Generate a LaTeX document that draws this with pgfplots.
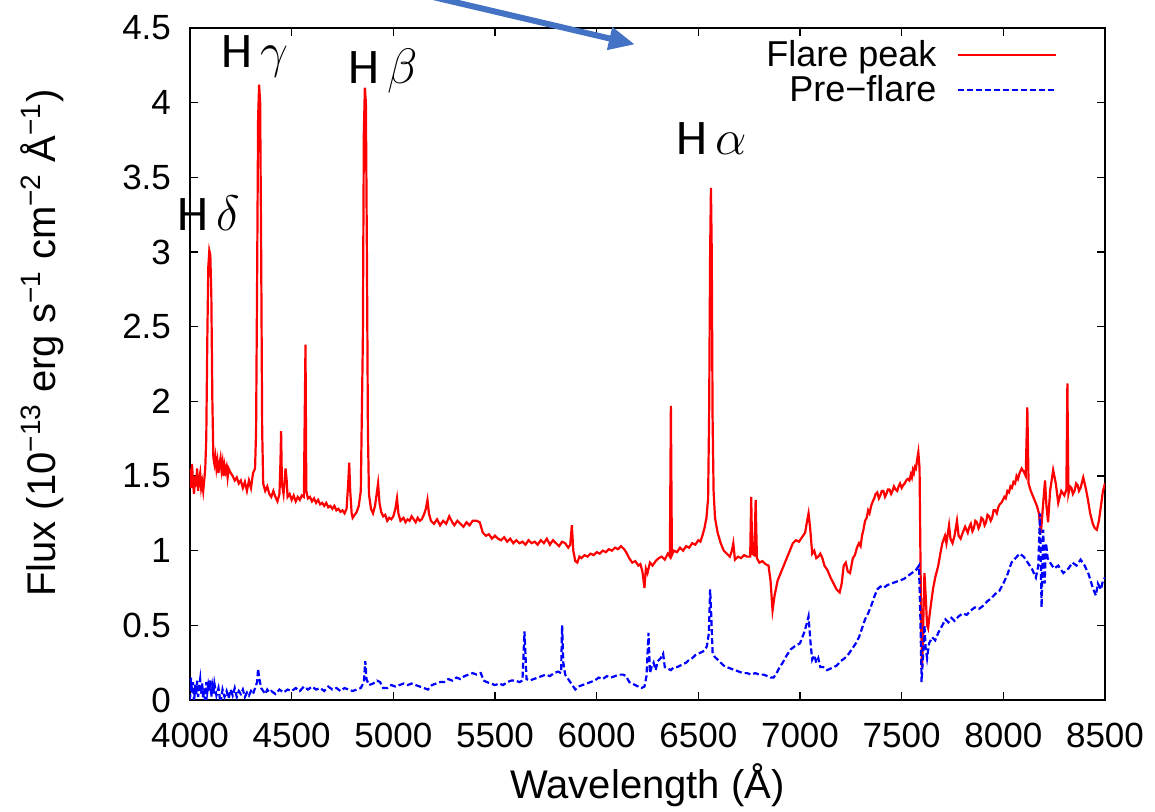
\documentclass[border=0pt]{standalone}
\usepackage{fontspec}
\setmainfont{Liberation Sans}
\newfontfamily\calib{Carlito}
\usepackage{pgfplots}
\pgfplotsset{compat=1.18}
\usetikzlibrary{arrows.meta}
\definecolor{arrowblue}{HTML}{4472C4}
\newcommand{\sups}[1]{\textsuperscript{#1}}

\begin{document}
\begin{tikzpicture}
\useasboundingbox (-95pt,-56pt) rectangle (482.5pt,350pt);
\begin{axis}[
  at={(0,0)}, anchor=south west,
  scale only axis, width=457.5pt, height=336pt,
  xmin=4000, xmax=8500, ymin=0, ymax=4.5,
  xtick={4000,4500,...,8500}, ytick={0,0.5,1,1.5,2,2.5,3,3.5,4,4.5},
  tick align=inside, major tick length=4pt,
  axis line style={line width=0.8pt},
  every tick/.style={black, line width=0.8pt},
  /pgf/number format/assume math mode=true,
  /pgf/number format/1000 sep={},
  ticklabel style={font=\fontsize{17.5}{20}\selectfont},
  xticklabel style={yshift=-8pt},
  yticklabel style={xshift=-6pt},
  xlabel={Wavelength (Å)},
  ylabel={Flux (10\sups{−13} erg s\sups{−1} cm\sups{−2} Å\sups{−1})},
  label style={font=\fontsize{20}{24}\selectfont},
  xlabel style={at={(axis description cs:0.5,-0.127)}, anchor=center},
  ylabel style={at={(axis description cs:-0.162,0.531)}, anchor=center},
  clip mode=individual,
  legend style={at={(1,1)}, anchor=north east, xshift=-21pt, yshift=-2pt,
    draw=none, fill=none, font=\fontsize{18}{21}\selectfont, row sep=-1pt,
    /tikz/every odd column/.style={column sep=8pt}},
  legend cell align=right,
  legend plot pos=right,
  legend image code/.code={\draw[#1] (0pt,0pt) -- (49pt,0pt);},
]
\addplot[red, line width=1.1pt] coordinates {
(4000,1.55)(4005,1.42)(4010,1.58)(4015,1.45)(4020,1.38)(4025,1.50)(4030,1.43)(4035,1.55)(4040,1.40)(4045,1.48)
(4050,1.52)(4055,1.42)(4060,1.46)(4065,1.40)(4070,1.47)(4075,1.55)(4080,1.75)(4085,2.40)(4090,2.90)(4095,3.01)
(4100,2.98)(4105,2.70)(4110,2.0)(4115,1.62)(4120,1.58)(4125,1.63)(4130,1.55)(4135,1.60)(4140,1.52)(4145,1.58)
(4150,1.62)(4155,1.54)(4160,1.59)(4165,1.50)(4170,1.57)(4175,1.53)(4180,1.56)(4185,1.49)(4190,1.55)(4200,1.52)
(4210,1.50)(4220,1.47)(4230,1.49)(4240,1.45)(4250,1.47)(4260,1.42)(4270,1.46)(4280,1.40)(4290,1.47)(4300,1.42)
(4310,1.52)(4320,1.55)(4325,1.8)(4330,2.8)(4335,3.9)(4340,4.12)(4345,4.0)(4350,3.0)(4355,1.8)(4360,1.45)
(4370,1.40)(4380,1.43)(4390,1.38)(4400,1.36)(4410,1.40)(4420,1.36)(4430,1.33)(4440,1.38)(4445,1.60)(4448,1.80)
(4452,1.45)(4460,1.38)(4470,1.55)(4475,1.48)(4480,1.36)(4490,1.38)(4500,1.34)(4510,1.37)(4520,1.33)(4530,1.36)
(4540,1.34)(4550,1.37)(4560,1.36)(4568,2.38)(4572,1.40)(4580,1.35)(4590,1.36)(4600,1.33)(4610,1.35)(4620,1.32)
(4630,1.34)(4640,1.31)(4650,1.32)(4660,1.30)(4670,1.32)(4680,1.29)(4690,1.30)(4700,1.28)(4710,1.30)(4720,1.27)
(4730,1.28)(4740,1.26)(4750,1.27)(4760,1.25)(4770,1.28)(4778,1.45)(4783,1.59)(4788,1.40)(4795,1.25)(4800,1.22)
(4810,1.24)(4820,1.26)(4830,1.30)(4840,1.40)(4850,2.4)(4855,3.8)(4860,4.10)(4865,4.0)(4870,3.0)(4875,1.8)
(4880,1.38)(4890,1.28)(4900,1.25)(4910,1.30)(4920,1.40)(4925,1.45)(4932,1.32)(4940,1.26)(4950,1.23)(4960,1.24)
(4970,1.20)(4980,1.22)(4990,1.21)(5000,1.23)(5010,1.28)(5018,1.35)(5025,1.25)(5035,1.20)(5050,1.22)(5060,1.19)
(5070,1.21)(5080,1.20)(5090,1.23)(5100,1.21)(5110,1.19)(5120,1.22)(5130,1.20)(5140,1.21)(5150,1.24)(5160,1.28)
(5168,1.34)(5175,1.25)(5185,1.20)(5200,1.18)(5215,1.21)(5230,1.17)(5245,1.20)(5260,1.18)(5275,1.23)(5290,1.19)
(5300,1.17)(5315,1.20)(5330,1.18)(5345,1.16)(5360,1.19)(5375,1.17)(5390,1.20)(5410,1.20)(5425,1.19)(5440,1.12)
(5455,1.10)(5470,1.11)(5485,1.08)(5500,1.10)(5515,1.08)(5530,1.07)(5545,1.09)(5560,1.06)(5575,1.08)(5590,1.05)
(5605,1.07)(5620,1.05)(5635,1.06)(5650,1.04)(5665,1.07)(5680,1.05)(5695,1.06)(5710,1.04)(5725,1.07)(5740,1.05)
(5755,1.08)(5770,1.04)(5785,1.07)(5800,1.05)(5815,1.03)(5830,1.06)(5845,1.05)(5860,1.02)(5870,1.04)(5878,1.17)
(5885,1.00)(5895,0.93)(5905,0.92)(5915,0.96)(5925,0.95)(5940,0.97)(5955,0.96)(5970,0.98)(5985,0.97)(6000,0.99)
(6015,0.98)(6030,1.00)(6045,0.99)(6060,1.01)(6075,1.00)(6090,1.02)(6105,1.01)(6120,1.03)(6135,1.01)(6145,0.99)
(6160,0.95)(6175,0.92)(6190,0.93)(6205,0.90)(6215,0.91)(6225,0.86)(6235,0.75)(6242,0.88)(6250,0.85)(6262,0.92)
(6275,0.90)(6290,0.93)(6305,0.95)(6320,0.96)(6335,0.94)(6350,0.98)(6360,0.96)(6365,1.97)(6370,0.97)(6380,1.00)
(6395,0.99)(6410,1.02)(6425,1.00)(6440,1.03)(6455,1.02)(6470,1.05)(6485,1.04)(6500,1.07)(6510,1.06)(6520,1.10)
(6530,1.15)(6540,1.22)(6548,1.35)(6553,1.9)(6558,3.0)(6562,3.43)(6566,3.0)(6570,1.9)(6575,1.40)(6582,1.22)
(6595,1.12)(6610,1.05)(6625,1.00)(6640,0.98)(6655,0.96)(6665,1.00)(6672,1.05)(6680,0.94)(6695,0.96)(6710,0.95)
(6725,0.97)(6740,0.96)(6755,0.96)(6760,1.36)(6765,0.98)(6775,0.97)(6782,1.34)(6788,0.95)(6800,0.92)(6815,0.93)
(6830,0.91)(6845,0.90)(6855,0.80)(6865,0.60)(6875,0.70)(6890,0.80)(6905,0.85)(6920,0.90)(6935,0.95)(6950,1.00)
(6965,1.05)(6980,1.07)(6995,1.06)(7010,1.09)(7025,1.12)(7035,1.20)(7042,1.25)(7050,1.15)(7060,0.98)(7070,1.00)
(7080,0.95)(7090,0.96)(7100,0.98)(7110,0.95)(7120,0.90)(7135,0.87)(7150,0.82)(7165,0.78)(7180,0.74)(7195,0.72)
(7205,0.78)(7215,0.90)(7225,0.92)(7235,0.86)(7246,0.85)(7260,0.95)(7270,0.97)(7280,1.02)(7290,1.05)(7298,1.03)
(7305,1.10)(7312,1.14)(7320,1.20)(7328,1.22)(7335,1.27)(7342,1.25)(7350,1.30)(7358,1.33)(7365,1.35)(7372,1.38)
(7380,1.39)(7388,1.35)(7395,1.37)(7402,1.40)(7410,1.40)(7418,1.36)(7425,1.38)(7432,1.41)(7440,1.41)(7448,1.38)
(7455,1.40)(7462,1.43)(7470,1.41)(7478,1.40)(7485,1.43)(7492,1.45)(7500,1.42)(7508,1.44)(7515,1.45)(7522,1.47)
(7530,1.48)(7538,1.47)(7545,1.51)(7550,1.49)(7555,1.54)(7560,1.52)(7565,1.56)(7570,1.55)(7575,1.60)(7582,1.66)
(7588,1.55)(7592,1.00)(7596,0.50)(7600,0.22)(7605,0.45)(7612,0.85)(7618,0.70)(7625,0.50)(7630,0.48)(7640,0.60)
(7655,0.75)(7665,0.82)(7680,0.90)(7690,0.98)(7700,1.05)(7713,1.10)(7720,1.05)(7733,1.17)(7740,1.08)(7750,1.05)
(7760,1.10)(7772,1.20)(7780,1.10)(7790,1.08)(7800,1.12)(7812,1.16)(7825,1.12)(7833,1.16)(7840,1.18)(7848,1.13)
(7855,1.15)(7862,1.20)(7870,1.19)(7878,1.15)(7885,1.17)(7892,1.22)(7900,1.21)(7908,1.17)(7915,1.19)(7922,1.24)
(7930,1.23)(7938,1.20)(7945,1.22)(7952,1.27)(7960,1.27)(7968,1.25)(7975,1.29)(7982,1.31)(7990,1.32)(7998,1.34)
(8005,1.36)(8012,1.35)(8020,1.40)(8028,1.39)(8035,1.43)(8042,1.42)(8050,1.46)(8058,1.45)(8065,1.50)(8072,1.48)
(8080,1.52)(8090,1.55)(8100,1.53)(8110,1.50)(8118,1.96)(8124,1.45)(8135,1.40)(8150,1.35)(8165,1.30)(8175,1.25)
(8185,1.12)(8195,1.30)(8205,1.47)(8212,1.30)(8220,1.19)(8230,1.40)(8245,1.54)(8258,1.45)(8270,1.32)(8285,1.40)
(8300,1.37)(8310,1.41)(8315,2.12)(8320,1.38)(8328,1.43)(8335,1.42)(8342,1.38)(8350,1.40)(8358,1.45)(8365,1.44)
(8372,1.40)(8380,1.42)(8393,1.49)(8405,1.42)(8415,1.35)(8427,1.25)(8440,1.18)(8450,1.15)(8460,1.14)(8470,1.20)
(8480,1.30)(8490,1.40)(8500,1.45)
};
\addlegendentry{Flare peak}
\addplot[blue, line width=1.1pt, dash pattern=on 3pt off 1.5pt] coordinates {
(4000,0.00)(4005,0.15)(4010,0.05)(4015,0.12)(4020,-0.02)(4025,0.10)(4030,0.03)(4035,0.13)(4040,0.02)(4045,0.09)
(4050,0.14)(4055,0.04)(4060,0.11)(4065,0.01)(4070,0.08)(4075,-0.03)(4080,0.12)(4085,0.05)(4090,0.10)(4095,0.06)
(4100,0.13)(4105,0.02)(4110,0.09)(4115,0.04)(4120,0.11)(4130,0.03)(4140,0.08)(4150,-0.02)(4160,0.07)(4170,0.02)
(4180,0.06)(4190,0.01)(4200,0.07)(4210,0.03)(4220,0.08)(4230,0.02)(4240,0.06)(4250,0.04)(4260,0.07)(4270,0.02)
(4280,0.05)(4290,0.03)(4300,0.06)(4310,0.04)(4320,0.08)(4330,0.12)(4335,0.21)(4340,0.15)(4350,0.08)(4360,0.06)
(4370,0.04)(4380,0.07)(4390,0.05)(4400,0.06)(4420,0.04)(4440,0.07)(4460,0.05)(4480,0.07)(4500,0.06)(4520,0.08)
(4540,0.06)(4560,0.09)(4580,0.07)(4600,0.09)(4620,0.07)(4640,0.08)(4660,0.06)(4680,0.09)(4700,0.07)(4720,0.08)
(4740,0.06)(4760,0.08)(4780,0.07)(4800,0.06)(4820,0.07)(4840,0.08)(4855,0.12)(4862,0.26)(4868,0.14)(4880,0.10)
(4900,0.11)(4920,0.13)(4935,0.12)(4950,0.08)(4970,0.08)(4990,0.10)(5010,0.09)(5030,0.10)(5050,0.11)(5070,0.10)
(5090,0.11)(5110,0.10)(5130,0.09)(5150,0.08)(5170,0.07)(5190,0.10)(5210,0.11)(5230,0.12)(5250,0.12)(5270,0.14)
(5290,0.13)(5310,0.15)(5330,0.14)(5350,0.16)(5370,0.17)(5390,0.18)(5410,0.17)(5430,0.18)(5445,0.13)(5460,0.12)
(5480,0.11)(5500,0.10)(5520,0.11)(5540,0.10)(5560,0.12)(5580,0.13)(5600,0.13)(5620,0.12)(5635,0.13)(5645,0.46)
(5650,0.30)(5655,0.14)(5670,0.13)(5690,0.14)(5710,0.15)(5730,0.16)(5750,0.17)(5770,0.16)(5790,0.18)(5810,0.19)
(5825,0.18)(5830,0.50)(5836,0.25)(5845,0.17)(5860,0.14)(5880,0.10)(5895,0.07)(5910,0.09)(5930,0.10)(5950,0.11)
(5970,0.12)(5990,0.13)(6010,0.15)(6030,0.14)(6050,0.16)(6070,0.15)(6090,0.16)(6110,0.17)(6130,0.17)(6145,0.16)
(6160,0.12)(6175,0.11)(6190,0.10)(6205,0.09)(6220,0.08)(6235,0.09)(6245,0.16)(6255,0.45)(6262,0.18)(6270,0.22)
(6280,0.25)(6290,0.20)(6300,0.26)(6315,0.28)(6327,0.31)(6335,0.22)(6350,0.21)(6365,0.20)(6380,0.22)(6395,0.22)
(6410,0.23)(6425,0.24)(6440,0.25)(6455,0.27)(6470,0.28)(6485,0.30)(6500,0.31)(6515,0.32)(6530,0.33)(6542,0.36)
(6552,0.45)(6558,0.74)(6564,0.55)(6570,0.32)(6580,0.29)(6595,0.27)(6610,0.25)(6625,0.23)(6640,0.22)(6660,0.21)
(6680,0.20)(6700,0.19)(6720,0.18)(6740,0.18)(6760,0.17)(6780,0.18)(6800,0.17)(6820,0.17)(6840,0.16)(6855,0.15)
(6870,0.15)(6885,0.18)(6900,0.22)(6915,0.25)(6935,0.30)(6955,0.34)(6975,0.36)(7000,0.38)(7020,0.45)(7035,0.52)
(7042,0.56)(7052,0.38)(7060,0.27)(7070,0.30)(7080,0.25)(7090,0.28)(7100,0.22)(7115,0.22)(7133,0.20)(7150,0.21)
(7165,0.22)(7180,0.23)(7200,0.26)(7220,0.28)(7240,0.31)(7260,0.35)(7275,0.38)(7290,0.42)(7305,0.48)(7320,0.54)
(7335,0.58)(7350,0.63)(7365,0.69)(7380,0.74)(7395,0.76)(7410,0.75)(7430,0.77)(7450,0.78)(7470,0.79)(7490,0.80)
(7510,0.81)(7530,0.83)(7550,0.85)(7570,0.87)(7585,0.90)(7592,0.55)(7598,0.12)(7605,0.30)(7612,0.50)(7618,0.35)
(7625,0.28)(7635,0.38)(7650,0.42)(7665,0.40)(7680,0.45)(7700,0.50)(7715,0.54)(7730,0.52)(7745,0.55)(7760,0.53)
(7780,0.56)(7800,0.58)(7820,0.57)(7840,0.60)(7860,0.62)(7880,0.61)(7900,0.63)(7920,0.66)(7940,0.68)(7960,0.71)
(7980,0.73)(8000,0.78)(8020,0.84)(8040,0.92)(8060,0.95)(8080,0.98)(8100,0.96)(8120,0.92)(8140,0.88)(8160,0.82)
(8172,0.90)(8180,1.25)(8188,0.62)(8196,1.14)(8203,0.78)(8210,1.05)(8218,0.95)(8230,0.92)(8250,0.88)(8270,0.90)
(8295,0.85)(8320,0.88)(8340,0.92)(8360,0.90)(8380,0.94)(8400,0.90)(8420,0.84)(8440,0.75)(8455,0.70)(8465,0.78)
(8480,0.74)(8490,0.80)(8500,0.82)
};
\addlegendentry{Pre−flare}
\node[font=\calib\fontsize{24.88}{28}\selectfont] at (axis cs:4093,3.26) {H\,$\delta$};
\node[font=\calib\fontsize{24.88}{28}\selectfont] at (axis cs:4320,4.31) {H\,$\gamma$};
\node[font=\calib\fontsize{24.88}{28}\selectfont] at (axis cs:4949,4.21) {H\,$\beta$};
\node[font=\calib\fontsize{24.88}{28}\selectfont] at (axis cs:6567,3.76) {H\,$\alpha$};
\draw[arrowblue, line width=3pt, -{Triangle[length=13pt,width=11pt]}] (axis cs:5156,4.72) -- (axis cs:6188,4.39);
\end{axis}
\end{tikzpicture}
\end{document}
